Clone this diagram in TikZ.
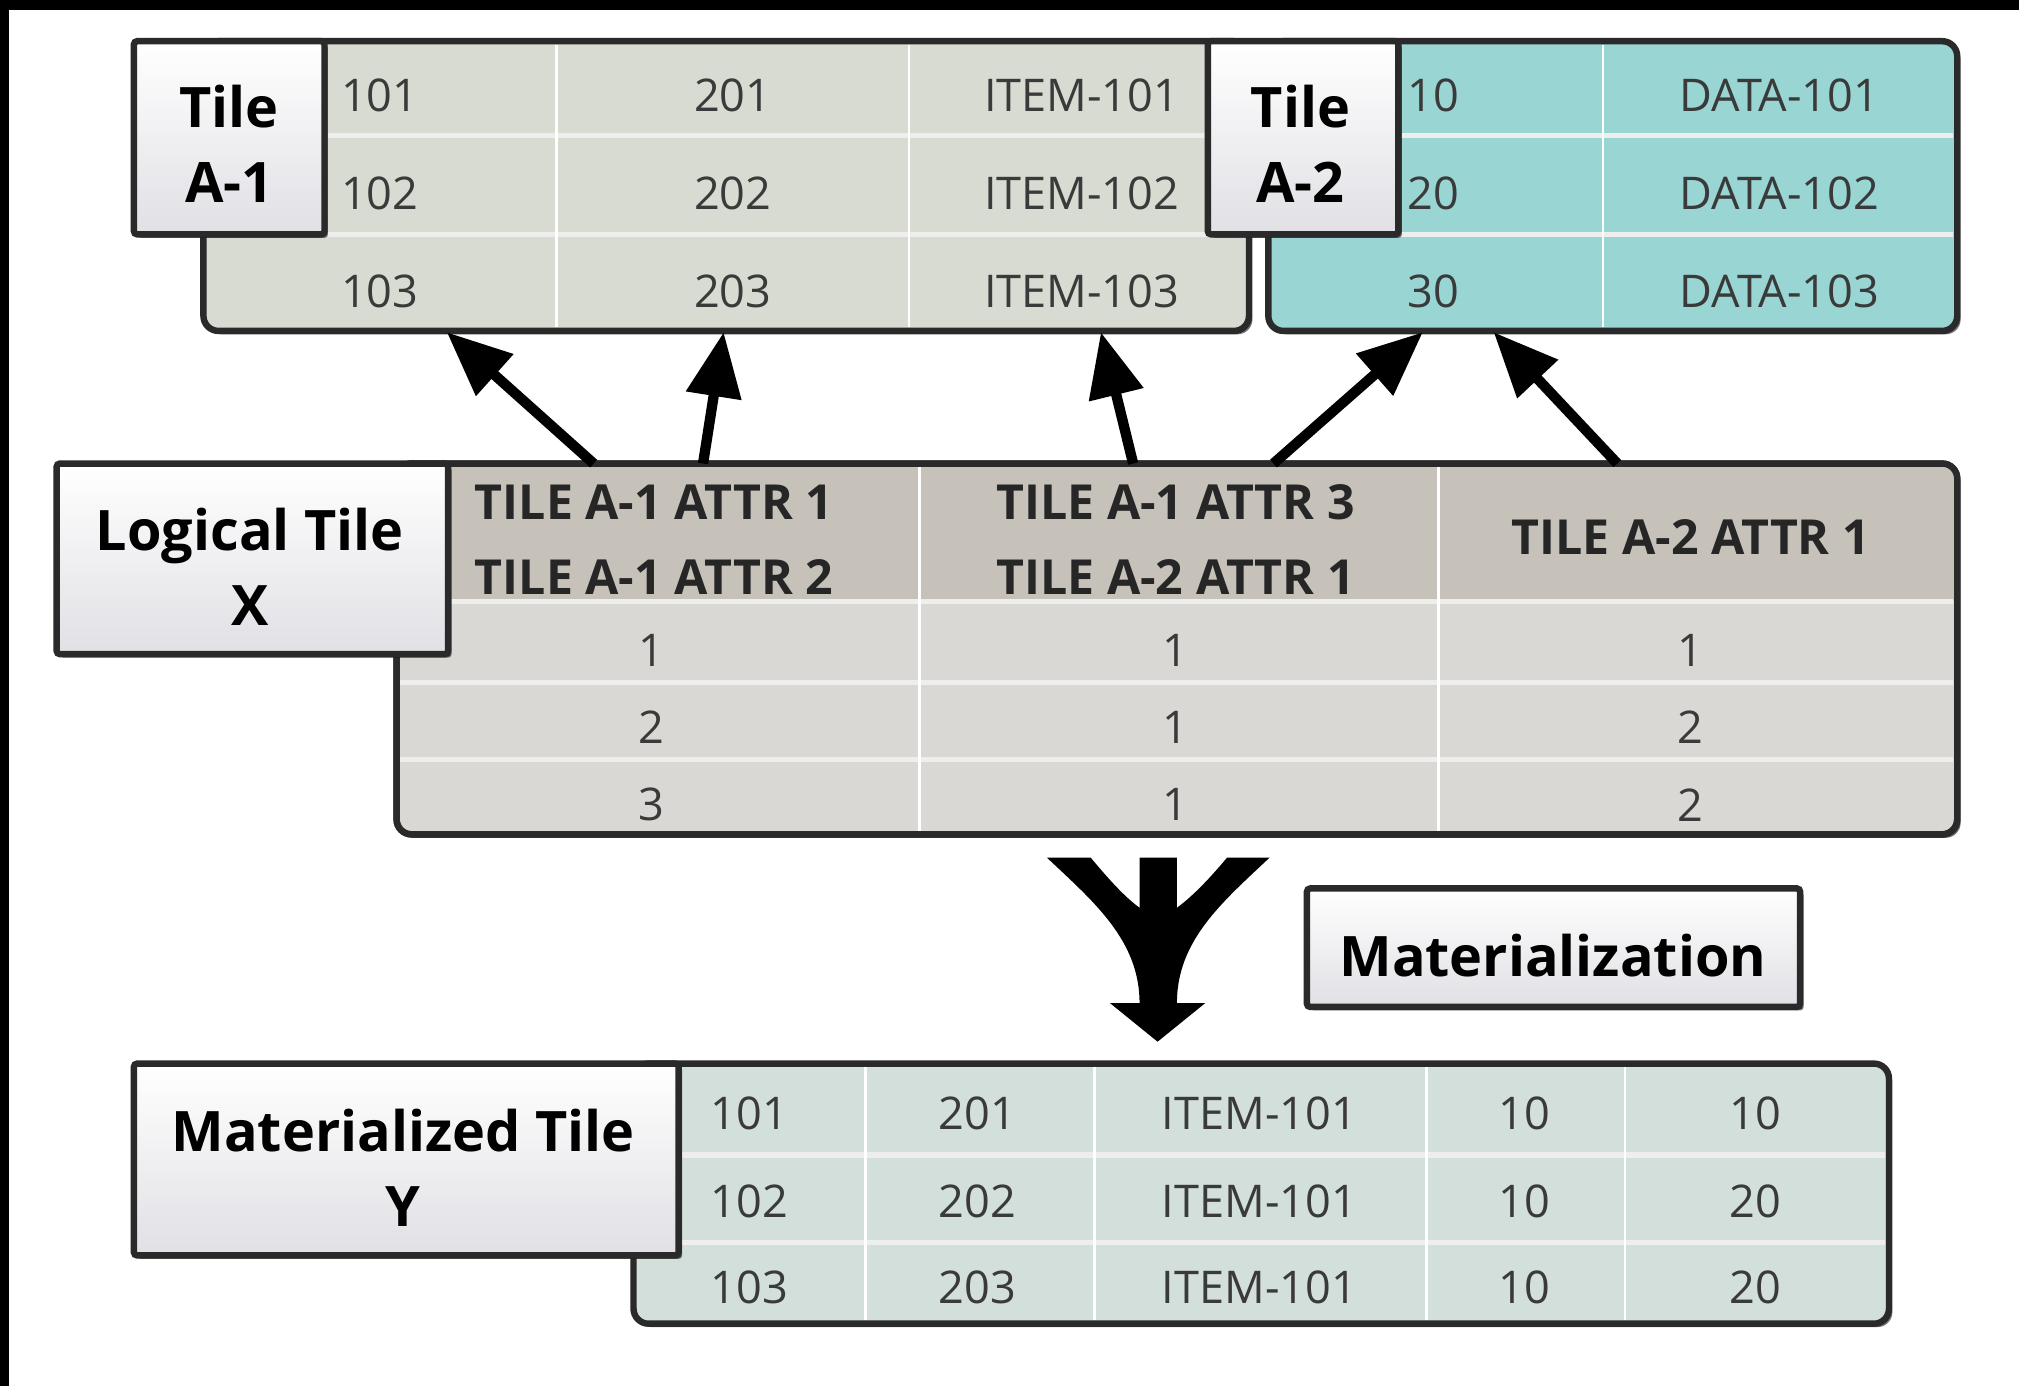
\documentclass[tikz,border=0pt]{standalone}
\usepackage{fontspec}
\setmainfont{Open Sans}
\usetikzlibrary{arrows.meta,fit,shadows}

\definecolor{tileA}{HTML}{D8DBD2}
\definecolor{tileB}{HTML}{98D5D3}
\definecolor{headG}{HTML}{C6C2BA}
\definecolor{rowG}{HTML}{D9D8D4}
\definecolor{matG}{HTML}{D2DFDA}
\definecolor{edge}{HTML}{2A2A2A}
\definecolor{txt}{HTML}{3A3A3A}
\definecolor{lblbot}{HTML}{E0E0E5}
\definecolor{rowline}{HTML}{EEEEEC}

\tikzset{
  boxshadow/.style={drop shadow={shadow xshift=1.6pt, shadow yshift=-1.6pt, opacity=0.55, fill=black}},
  tablebody/.style={inner sep=0pt, rounded corners=7pt, draw=edge, line width=3pt, boxshadow},
  tilelabel/.style={inner sep=0pt, draw=edge, line width=3pt, top color=white,
    bottom color=lblbot, rounded corners=1.5pt, boxshadow},
  lbltext/.style={font=\bfseries\fontsize{26}{35}\selectfont, align=center, text=black, inner sep=0pt},
  cell/.style={font=\fontsize{21}{25}\selectfont, text=txt, inner sep=0pt},
  hdr/.style={font=\bfseries\fontsize{22.5}{35}\selectfont, align=center, text=black!85, inner sep=0pt},
  divrow/.style={draw=rowline, line width=2.4pt},
  divcol/.style={draw=white, line width=1.2pt},
  link/.style={line width=4.8pt, -{Triangle[length=30pt,width=25pt]}},
}

\begin{document}
\begin{tikzpicture}[x=0.6pt, y=-0.6pt]
\useasboundingbox (0,0) rectangle (1568,1076);
\fill[white] (-20,-20) rectangle (1600,1100);
% black frame on the top and left edges
\fill[black] (-20,-20) rectangle (1600,8);
\fill[black] (-20,-20) rectangle (7,1100);

% ---------- Tile A-1 ----------
\node[tablebody, fill=tileA, fit={(158,32) (970,257)}] (ta1) {};
\foreach \y in {105,182} \draw[divrow] (161,\y) -- (967,\y);
\foreach \x in {432,706} \draw[divcol] (\x,35) -- (\x,254);
\foreach \r/\a/\b/\c/\yy in {1/101/201/ITEM-101/74, 2/102/202/ITEM-102/150, 3/103/203/ITEM-103/226} {
  \node[cell] (a1c1r\r) at (295,\yy) {\a};
  \node[cell] (a1c2r\r) at (569,\yy) {\b};
  \node[cell] (a1c3r\r) at (840,\yy) {\c};
}

% ---------- Tile A-2 ----------
\node[tablebody, fill=tileB, fit={(985,32) (1520,257)}] (ta2) {};
\foreach \y in {105,182} \draw[divrow] (988,\y) -- (1517,\y);
\draw[divcol] (1245,35) -- (1245,254);
\foreach \r/\a/\b/\yy in {1/10/DATA-101/74, 2/20/DATA-102/150, 3/30/DATA-103/226} {
  \node[cell] (a2c1r\r) at (1113,\yy) {\a};
  \node[cell] (a2c2r\r) at (1382,\yy) {\b};
}

\node[tilelabel, fit={(104,32) (252,182)}] (la1) {};
\node[lbltext] (la1t) at (178,112) {Tile\\A-1};
\node[tilelabel, fit={(938,32) (1086,182)}] (la2) {};
\node[lbltext] (la2t) at (1010,112) {Tile\\A-2};

% ---------- Logical tile X ----------
\node[tablebody, fill=rowG, fit={(308,360) (1520,648)}] (tx) {};
\begin{scope}
  \clip[rounded corners=7pt] (309.5,361.5) rectangle (1518.5,646.5);
  \fill[headG] (300,350) rectangle (1530,466);
\end{scope}
\foreach \y in {467,530,590} \draw[divrow] (311,\y) -- (1517,\y);
\foreach \x in {714,1117} \draw[divcol] (\x,363) -- (\x,645);
\draw[edge, line width=3pt, rounded corners=7pt] (308,360) rectangle (1520,648);

\node[hdr] (h1) at (508,419) {TILE A-1 ATTR 1\\TILE A-1 ATTR 2};
\node[hdr] (h2) at (913,419) {TILE A-1 ATTR 3\\TILE A-2 ATTR 1};
\node[hdr] (h3) at (1313,417) {TILE A-2 ATTR 1};
\foreach \r/\a/\b/\c/\yy in {1/1/1/1/505, 2/2/1/2/565, 3/3/1/2/625} {
  \node[cell] (xc1r\r) at (506,\yy) {\a};
  \node[cell] (xc2r\r) at (913,\yy) {\b};
  \node[cell] (xc3r\r) at (1313,\yy) {\c};
}

\node[tilelabel, fit={(44,360) (348,508)}] (lx) {};
\node[lbltext] (lxt) at (194,440) {Logical Tile\\X};

% ---------- references from X to the base tiles ----------
\coordinate (s1) at (461,360);  \coordinate (e1) at (347,258);
\coordinate (s2) at (546,360);  \coordinate (e2) at (562,258);
\coordinate (s3) at (880,360);  \coordinate (e3) at (855,258);
\coordinate (s4) at (989,360);  \coordinate (e4) at (1105,258);
\coordinate (s5) at (1256,360); \coordinate (e5) at (1160,258);
\foreach \i in {1,...,5} \draw[link] (s\i) -- (e\i);

% ---------- materialization arrow ----------
\fill[black] (813,666) -- (847,666) .. controls (862,684) and (874,697) .. (885,705)
  -- (885,666) -- (914,666) -- (914,705) .. controls (925,697) and (938,684) .. (953,666)
  -- (986,666) .. controls (950,700) and (914,730) .. (914,779)
  -- (936,779) -- (899,809) -- (862,779) -- (885,779)
  .. controls (885,730) and (849,700) .. (813,666) -- cycle;

\node[tilelabel, fit={(1015,690) (1398,782)}] (lm) {};
\node[lbltext] (lmt) at (1206,742) {Materialization};

% ---------- Materialized tile Y ----------
\node[tablebody, fill=matG, fit={(492,826) (1467,1028)}] (ty) {};
\foreach \y in {897,965} \draw[divrow] (495,\y) -- (1464,\y);
\foreach \x in {672,850,1108,1262} \draw[divcol] (\x,829) -- (\x,1025);
\foreach \r/\a/\b/\c/\d/\e/\yy in {1/101/201/ITEM-101/10/10/865, 2/102/202/ITEM-101/10/20/933, 3/103/203/ITEM-101/10/20/1000} {
  \node[cell] (yc1r\r) at (582,\yy) {\a};
  \node[cell] (yc2r\r) at (759,\yy) {\b};
  \node[cell] (yc3r\r) at (978,\yy) {\c};
  \node[cell] (yc4r\r) at (1184,\yy) {\d};
  \node[cell] (yc5r\r) at (1363,\yy) {\e};
}

\node[tilelabel, fit={(104,826) (527,975)}] (ly) {};
\node[lbltext] (lyt) at (313,907) {Materialized Tile\\Y};
\end{tikzpicture}
\end{document}
